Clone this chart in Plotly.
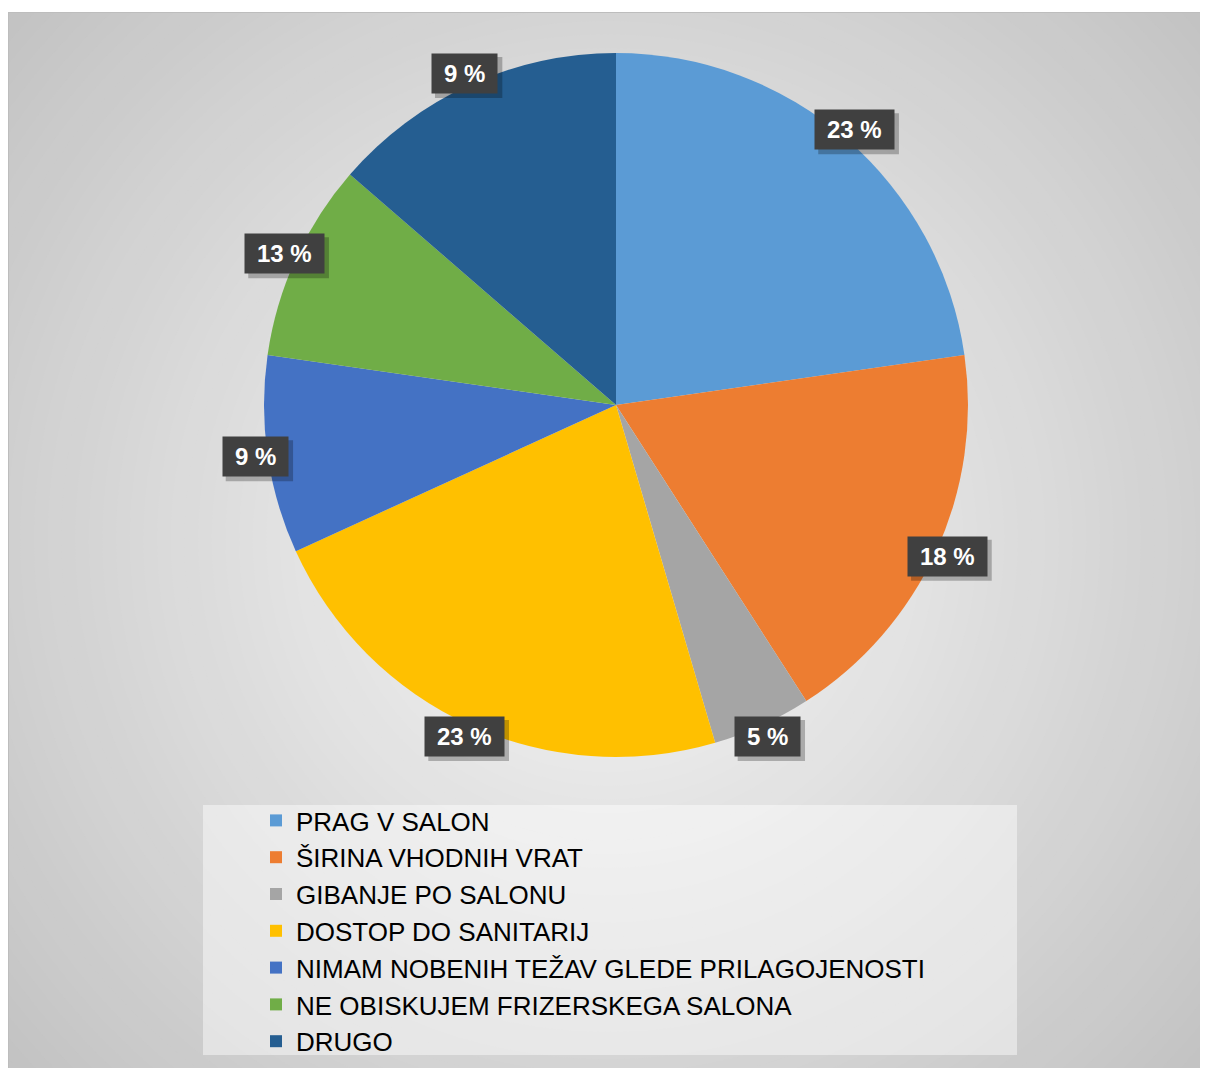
import math
import plotly.graph_objects as go

# ---- data ----
categories = [
    "PRAG V SALON",
    "ŠIRINA VHODNIH VRAT",
    "GIBANJE PO SALONU",
    "DOSTOP DO SANITARIJ",
    "NIMAM NOBENIH TEŽAV GLEDE PRILAGOJENOSTI",
    "NE OBISKUJEM FRIZERSKEGA SALONA",
    "DRUGO",
]
values = [5, 4, 1, 5, 2, 2, 3]
value_labels = ["23 %", "18 %", "5 %", "23 %", "9 %", "13 %", "9 %"]
colors = ["#5B9BD5", "#ED7D31", "#A5A5A5", "#FFC000", "#4472C4", "#70AD47", "#255E91"]

# ---- geometry / style ----
W, H = 1200, 1060          # figure size (page has an 8px body margin)
OFF = 8                    # page offset of the figure


def px(x):  # page x -> paper x
    return (x - OFF) / W


def py(y):  # page y -> paper y
    return 1 - (y - OFF) / H


FONT = "Arial, Liberation Sans, sans-serif"
dom_x = [px(264), px(968)]
dom_y = [py(757), py(53)]

fig = go.Figure()
fig.add_trace(go.Pie(
    labels=categories,
    values=values,
    marker=dict(colors=colors, line=dict(width=0)),
    sort=False,
    direction="clockwise",
    rotation=0,
    textinfo="none",
    hoverinfo="skip",
    domain=dict(x=dom_x, y=dom_y),
    showlegend=True,
))

shapes = []
# radial gradient background
gcx, gcy = 608, 540
n = 60
rmax = 820
for i in range(n):
    r = rmax * (1 - i / n)
    t = r / 800
    c = int(round(247 - 52 * min(t, 1.0)))
    col = f"rgb({c},{c},{c})"
    shapes.append(dict(type="circle", xref="paper", yref="paper", layer="below",
                       x0=px(gcx - r), x1=px(gcx + r),
                       y0=py(gcy + r), y1=py(gcy - r),
                       fillcolor=col, line=dict(width=0)))
# white strip above chart area
shapes.append(dict(type="rect", xref="paper", yref="paper", layer="below",
                   x0=0, x1=1, y0=py(12), y1=1, fillcolor="white", line=dict(width=0)))
# thin border of chart area
shapes.append(dict(type="line", xref="paper", yref="paper", layer="below",
                   x0=0, x1=1, y0=py(12.5), y1=py(12.5),
                   line=dict(color="#bdbdbd", width=1)))
shapes.append(dict(type="line", xref="paper", yref="paper", layer="below",
                   x0=px(8.5), x1=px(8.5), y0=0, y1=py(12),
                   line=dict(color="#bdbdbd", width=1)))
# legend backdrop
shapes.append(dict(type="rect", xref="paper", yref="paper", layer="below",
                   x0=px(203), x1=px(1017), y0=py(1055), y1=py(805),
                   fillcolor="rgba(255,255,255,0.45)", line=dict(width=0)))

# data labels as boxed annotations around the pie
cx = (dom_x[0] + dom_x[1]) / 2 * W
cy = (1 - (dom_y[0] + dom_y[1]) / 2) * H
R = min((dom_x[1] - dom_x[0]) * W, (dom_y[1] - dom_y[0]) * H) / 2
total = sum(values)
cum = 0
annotations = []
LFS = 24
char_w = {"%": 0.889 * LFS, " ": 0.278 * LFS}
PAD = 4
TH = 31
for v, lab in zip(values, value_labels):
    mid = (cum + v / 2) / total * 2 * math.pi
    cum += v
    f = 1.035
    lx = cx + f * R * math.sin(mid)
    ly = cy - f * R * math.cos(mid)
    tw = sum(char_w.get(ch, 0.556 * LFS) for ch in lab)
    bw = tw + 16
    # drop shadow rectangle (pixel box derived from the label box)
    tot_w = bw + 2 * PAD + 2
    tot_h = TH + 2 * PAD + 2
    sx, sy = 4, 4
    shapes.append(dict(type="rect", xref="paper", yref="paper", layer="above",
                       x0=(lx - tot_w / 2 + sx) / W, x1=(lx + tot_w / 2 + sx) / W,
                       y0=1 - (ly + tot_h / 2 + sy) / H, y1=1 - (ly - tot_h / 2 + sy) / H,
                       fillcolor="rgba(0,0,0,0.25)", line=dict(width=0)))
    annotations.append(dict(xref="paper", yref="paper", x=lx / W, y=1 - ly / H,
                            xanchor="center", yanchor="middle", showarrow=False,
                            width=bw, height=TH, borderpad=PAD, text=f"<b>{lab}</b>",
                            bgcolor="#404040",
                            font=dict(family=FONT, size=LFS, color="white")))

fig.update_layout(
    width=W, height=H,
    margin=dict(l=0, r=0, t=0, b=0),
    paper_bgcolor="white",
    plot_bgcolor="rgba(0,0,0,0)",
    shapes=shapes,
    annotations=annotations,
    showlegend=True,
    legend=dict(
        x=px(256), y=py(797), xanchor="left", yanchor="top",
        bgcolor="rgba(0,0,0,0)",
        font=dict(family=FONT, size=26, color="black"),
        traceorder="normal",
    ),
)

fig.write_html("out.html", post_script="document.body.style.overflow='hidden';")
